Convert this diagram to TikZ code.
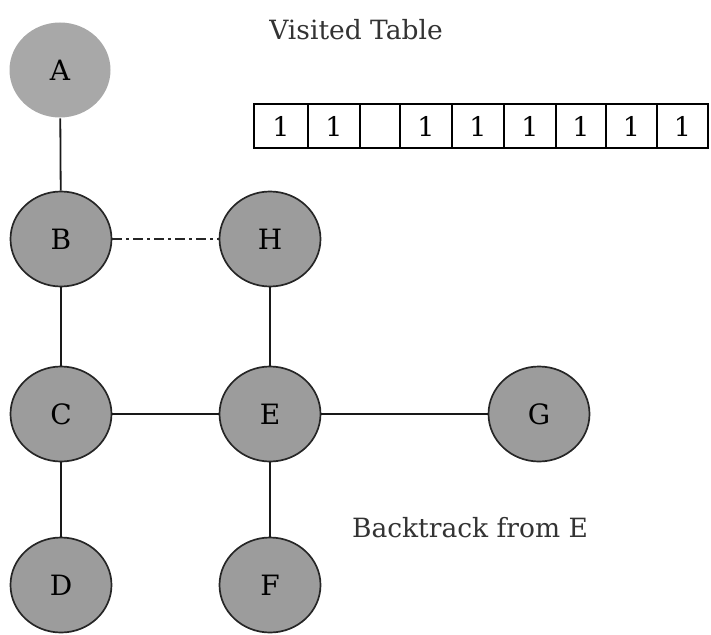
\documentclass[tikz,border=0pt]{standalone}
\usepackage{fontspec}
\setmainfont{DejaVu Serif}
\usetikzlibrary{shapes.geometric}
\begin{document}
\begin{tikzpicture}[x=1pt,y=-1pt,
  vtx/.style={ellipse,draw=black!85,line width=1.7pt,fill=gray!78,minimum width=101pt,minimum height=95pt,inner sep=0pt,font=\fontsize{28}{30}\selectfont},
  vtxa/.style={vtx,draw=none,fill=gray!68},
  cell/.style={draw=black,line width=1.6pt,minimum height=44pt,inner sep=0pt,outer sep=0pt,anchor=west,font=\fontsize{27}{30}\selectfont},
  edge/.style={line width=1.8pt,black!90},
  lbl/.style={font=\fontsize{26.5}{30}\selectfont,text=black!80}]
\useasboundingbox (0,0) rectangle (711,634);
\node[vtxa] (A) at (60,70) {A};
\node[vtx] (B) at (61,239) {B};
\node[vtx] (H) at (270,239) {H};
\node[vtx] (C) at (61,414) {C};
\node[vtx] (E) at (270,414) {E};
\node[vtx] (G) at (539,414) {G};
\node[vtx] (D) at (61,585) {D};
\node[vtx] (F) at (270,585) {F};
\draw[edge] (A) -- (B);
\draw[edge] (B) -- (C);
\draw[edge] (C) -- (D);
\draw[edge] (C) -- (E);
\draw[edge] (E) -- (G);
\draw[edge] (H) -- (E);
\draw[edge] (E) -- (F);
\draw[line width=2.4pt,black!85,dash pattern=on 10pt off 4pt on 3pt off 4pt] (B) -- (H);
\node[lbl] (vt) at (356,30) {Visited Table};
\node[lbl] (bt) at (470,528) {Backtrack from E};
\node[cell,minimum width=54pt] (t1) at (254,126) {1};
\node[cell,minimum width=52pt] (t2) at (t1.east) {1};
\node[cell,minimum width=40pt] (t3) at (t2.east) {};
\node[cell,minimum width=52pt] (t4) at (t3.east) {1};
\node[cell,minimum width=52pt] (t5) at (t4.east) {1};
\node[cell,minimum width=52pt] (t6) at (t5.east) {1};
\node[cell,minimum width=50pt] (t7) at (t6.east) {1};
\node[cell,minimum width=51pt] (t8) at (t7.east) {1};
\node[cell,minimum width=51pt] (t9) at (t8.east) {1};
\end{tikzpicture}
\end{document}
